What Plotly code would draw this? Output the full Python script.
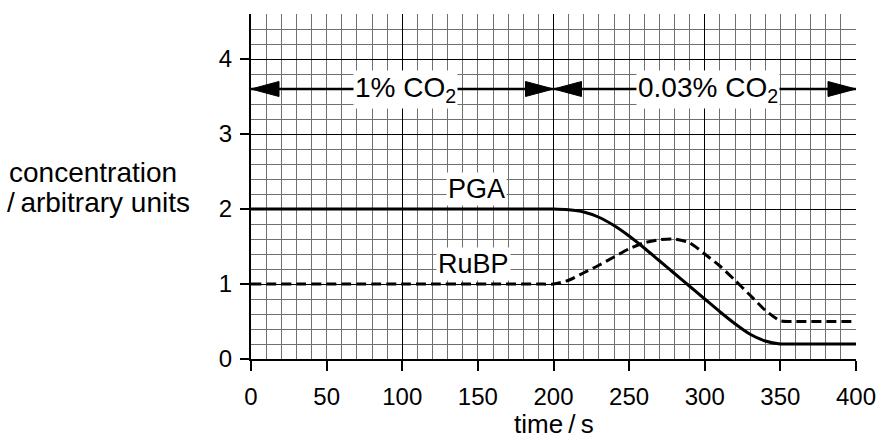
import plotly.graph_objects as go

# ---- data ----
PGA_TIME = [0, 100, 190, 200, 210, 220, 230, 240, 250, 260, 270, 280, 290, 300, 310, 320, 330, 340, 350, 360, 400]
PGA = [2.0, 2.0, 2.0, 2.0, 1.99, 1.96, 1.89, 1.78, 1.64, 1.48, 1.31, 1.14, 0.97, 0.80, 0.63, 0.47, 0.33, 0.24, 0.20, 0.20, 0.20]

RUBP_TIME = [0, 100, 190, 200, 210, 220, 230, 240, 250, 260, 270, 280, 290, 300, 310, 320, 330, 340, 350, 360, 400]
RUBP = [1.0, 1.0, 1.0, 1.0, 1.05, 1.15, 1.25, 1.36, 1.47, 1.55, 1.59, 1.60, 1.55, 1.40, 1.24, 1.05, 0.85, 0.65, 0.51, 0.50, 0.50]

X_TICKS = [0, 50, 100, 150, 200, 250, 300, 350, 400]
X_MAJOR_GRID = [0, 100, 200, 300, 400]
Y_TICKS = [0, 1, 2, 3, 4]

PHASE_START = [0, 200]
PHASE_END = [200, 400]
PHASE_LABELS = ["1% CO<sub>2</sub>", "0.03% CO<sub>2</sub>"]
ARROW_LEVEL = 3.6

SERIES_LABELS = ["PGA", "RuBP"]
SERIES_LABEL_X = [149, 147]
SERIES_LABEL_Y = [2.27, 1.27]

FONT = "Liberation Sans, Arial, Helvetica, sans-serif"
GRID_GREY = "#707070"

fig = go.Figure()

fig.add_trace(go.Scatter(
    x=RUBP_TIME, y=RUBP, mode="lines",
    line=dict(color="black", width=3, dash="10px,5px", shape="spline", smoothing=0.6),
    hoverinfo="skip", showlegend=False, xaxis="x", yaxis="y"))

fig.add_trace(go.Scatter(
    x=PGA_TIME, y=PGA, mode="lines",
    line=dict(color="black", width=3, shape="spline", smoothing=0.6),
    hoverinfo="skip", showlegend=False, xaxis="x2", yaxis="y"))

shapes = []
annotations = []
for x0, x1, lab in zip(PHASE_START, PHASE_END, PHASE_LABELS):
    shapes.append(dict(type="line", xref="x", yref="y", x0=x0, x1=x1,
                       y0=ARROW_LEVEL, y1=ARROW_LEVEL,
                       line=dict(color="black", width=2.5)))
    shapes.append(dict(type="path", xref="x", yref="y", xsizemode="pixel", ysizemode="pixel",
                       xanchor=x0, yanchor=ARROW_LEVEL,
                       path="M0,0 L28,7.5 L28,-7.5 Z",
                       fillcolor="black", line=dict(color="black", width=1)))
    shapes.append(dict(type="path", xref="x", yref="y", xsizemode="pixel", ysizemode="pixel",
                       xanchor=x1, yanchor=ARROW_LEVEL,
                       path="M0,0 L-28,7.5 L-28,-7.5 Z",
                       fillcolor="black", line=dict(color="black", width=1)))
    annotations.append(dict(x=(x0 + x1) / 2 + 2, y=ARROW_LEVEL, xref="x", yref="y",
                            text=lab, showarrow=False, bgcolor="white", borderpad=1,
                            font=dict(family=FONT, size=28, color="black")))

for lab, lx, ly in zip(SERIES_LABELS, SERIES_LABEL_X, SERIES_LABEL_Y):
    annotations.append(dict(x=lx, y=ly, xref="x", yref="y", text=lab, showarrow=False,
                            bgcolor="white", borderpad=1,
                            font=dict(family=FONT, size=27, color="black")))

annotations.append(dict(x=-0.403, y=0.5395, xref="paper", yref="paper",
                        xanchor="left", yanchor="middle", align="left",
                        text="concentration", showarrow=False,
                        font=dict(family=FONT, size=28, color="black")))
annotations.append(dict(x=-0.406, y=0.4527, xref="paper", yref="paper",
                        xanchor="left", yanchor="middle", align="left",
                        text="/\u2009arbitrary units", showarrow=False,
                        font=dict(family=FONT, size=28, color="black")))
annotations.append(dict(x=0.5, y=-0.188, xref="paper", yref="paper",
                        xanchor="center", yanchor="middle",
                        text="time\u2009/\u2009s", showarrow=False,
                        font=dict(family=FONT, size=26, color="black")))

fig.update_layout(
    width=881, height=438, autosize=False,
    margin=dict(l=251, r=25, t=14, b=79, pad=0, autoexpand=False),
    paper_bgcolor="white", plot_bgcolor="white",
    shapes=shapes, annotations=annotations,
    xaxis=dict(range=[0, 400], tickvals=X_TICKS, ticks="outside", ticklen=10, tickwidth=2,
               tickcolor="black", showline=True, linewidth=2, linecolor="black",
               showgrid=True, gridcolor=GRID_GREY, gridwidth=1, zeroline=False,
               ticklabelstandoff=5, automargin=False,
               minor=dict(dtick=10, showgrid=True, gridcolor=GRID_GREY, gridwidth=1),
               tickfont=dict(family=FONT, size=24, color="black")),
    xaxis2=dict(range=[0, 400], overlaying="x", anchor="y", tickvals=X_MAJOR_GRID,
                showticklabels=False, ticks="", showline=False, zeroline=False,
                automargin=False,
                showgrid=True, gridcolor="black", gridwidth=1),
    yaxis=dict(range=[0, 4.6], tickvals=Y_TICKS, ticks="outside", ticklen=9, tickwidth=2,
               tickcolor="black", showline=True, linewidth=2, linecolor="black",
               showgrid=True, gridcolor="black", gridwidth=1, zeroline=False,
               ticklabelstandoff=3, automargin=False,
               minor=dict(dtick=0.2, showgrid=True, gridcolor=GRID_GREY, gridwidth=1),
               tickfont=dict(family=FONT, size=24, color="black")),
)

fig.write_html("out.html", config={"displayModeBar": False},
               post_script="document.body.style.margin='0';document.body.style.overflow='hidden';")
